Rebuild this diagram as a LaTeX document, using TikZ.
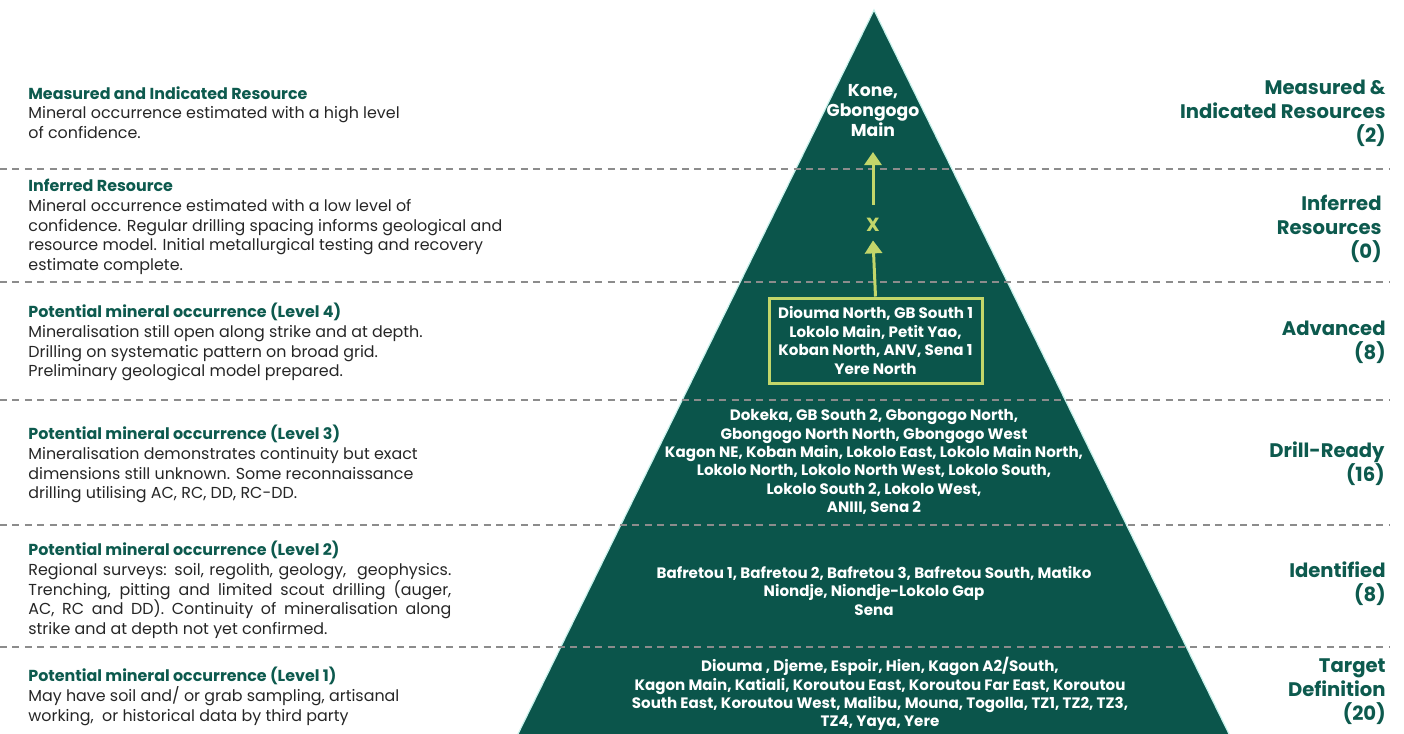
\documentclass[tikz,border=0pt]{standalone}
\usepackage{fontspec}
\setmainfont{Poppins}
\usepackage{tikz}
\usetikzlibrary{arrows.meta,positioning,calc}
\definecolor{pyrgreen}{HTML}{0B554B}
\definecolor{headteal}{HTML}{0D5A4E}
\definecolor{bodygray}{HTML}{262626}
\definecolor{dashgray}{HTML}{8C8C8C}
\definecolor{olive}{HTML}{C3D66A}
\definecolor{glow}{HTML}{C8F2EC}
\tikzset{
  desc/.style={anchor=north west, inner sep=0pt, align=left, text=bodygray,
    font=\fontsize{7.95}{9.8}\selectfont},
  stage/.style={anchor=north east, inner sep=0pt, align=right, text=headteal,
    font=\fontsize{9.8}{12}\selectfont\bfseries},
  names/.style={anchor=north, inner sep=0pt, align=center, text=white,
    font=\fontsize{7.55}{9.2}\selectfont\bfseries},
  level/.style={dashgray, line width=1pt, dash pattern=on 3.5pt off 2.7pt},
  arr/.style={olive, line width=1.5pt, -{Triangle[width=8.5pt,length=6.5pt]}}
}
\newcommand{\hd}[1]{{\bfseries\color{headteal}#1}}
\begin{document}
\begin{tikzpicture}[x=0.5pt,y=-0.5pt]
  \useasboundingbox (0,0) rectangle (1404,734);
  % pyramide
  \coordinate (apex) at (874,10);
  \coordinate (bl) at (517,736);
  \coordinate (br) at (1230,736);
  \fill[pyrgreen] (bl) -- (apex) -- (br) -- cycle;
  \draw[glow, line width=0.6pt] (bl) -- (apex) -- (br);

  % niveaux
  \foreach \yy in {169,282,400,525,647}
    \draw[level] (0,\yy) -- (1390,\yy);

  % descriptions a gauche
  \node[desc] (d1) at (28,86) {\hd{Measured and Indicated Resource}\\
    Mineral occurrence estimated with a high level\\
    of confidence.};
  \node[desc] (d2) at (28,179) {\hd{Inferred Resource}\\
    Mineral occurrence estimated with a low level of\\
    confidence. Regular drilling spacing informs geological and\\
    resource model. Initial metallurgical testing and recovery\\
    estimate complete.};
  \node[desc] (d3) at (28,303) {\hd{Potential mineral occurrence (Level 4)}\\
    Mineralisation still open along strike and at depth.\\
    Drilling on systematic pattern on broad grid.\\
    Preliminary geological model prepared.};
  \node[desc] (d4) at (28,425) {\hd{Potential mineral occurrence (Level 3)}\\
    Mineralisation demonstrates continuity but exact\\
    dimensions still unknown. Some reconnaissance\\
    drilling utilising AC, RC, DD, RC-DD.};
  \node[desc, text width=211.5pt, align=justify] (d5) at (28,541)
    {\hd{Potential mineral occurrence (Level 2)}\\
    Regional surveys: soil, regolith, geology,~ geophysics.\linebreak
    Trenching, pitting and limited scout drilling (auger,\linebreak
    AC, RC and DD). Continuity of mineralisation along\linebreak
    strike and at depth not yet confirmed.};
  \node[desc] (d6) at (28,667) {\hd{Potential mineral occurrence (Level 1)}\\
    May have soil and/ or grab sampling, artisanal\\
    working,~ or historical data by third party};

  % etapes a droite
  \node[stage] (s1) at (1386,80) {Measured \&\\Indicated Resources\\(2)};
  \node[stage] (s2) at (1382,195) {Inferred\\Resources\\(0)};
  \node[stage] (s3) at (1386,321) {Advanced\\(8)};
  \node[stage] (s4) at (1385,441) {Drill-Ready\\(16)};
  \node[stage] (s5) at (1386,561) {Identified\\(8)};
  \node[stage] (s6) at (1386,658) {Target\\Definition\\(20)};

  % projets
  \node[names, font=\fontsize{8.6}{10}\selectfont\bfseries] (kone) at (873,84)
    {Kone,\\Gbongogo\\Main};
  \node[names, font=\fontsize{9.5}{10}\selectfont\bfseries, text=olive,
    minimum height=15pt, anchor=center] (xmark) at (873,225) {X};
  \node[names, draw=olive, line width=1.5pt, anchor=center,
    minimum width=106.5pt, minimum height=42.5pt] (adv) at (875.5,340.5)
    {Diouma North, GB South 1\\Lokolo Main, Petit Yao,\\
     Koban North, ANV, Sena 1\\Yere North};
  \node[names] (drill) at (874,409)
    {Dokeka, GB South 2, Gbongogo North,\\
     Gbongogo North North, Gbongogo West\\
     Kagon NE, Koban Main, Lokolo East, Lokolo Main North,\\
     Lokolo North, Lokolo North West, Lokolo South,\\
     Lokolo South 2, Lokolo West,\\
     ANIII, Sena 2};
  \node[names] (ident) at (874,566)
    {Bafretou 1, Bafretou 2, Bafretou 3, Bafretou South, Matiko\\
     Niondje, Niondje-Lokolo Gap\\
     Sena};
  \node[names] (target) at (880,657)
    {Diouma , Djeme, Espoir, Hien, Kagon A2/South,\\
     Kagon Main, Katiali, Koroutou East, Koroutou Far East, Koroutou\\
     South East, Koroutou West, Malibu, Mouna, Togolla, TZ1, TZ2, TZ3,\\
     TZ4, Yaya, Yere};

  % fleches
  \draw[arr] (adv.north) -- (xmark.south);
  \draw[arr, shorten <=2.5pt, shorten >=7.5pt] (xmark.north) -- (kone.south);
\end{tikzpicture}
\end{document}
